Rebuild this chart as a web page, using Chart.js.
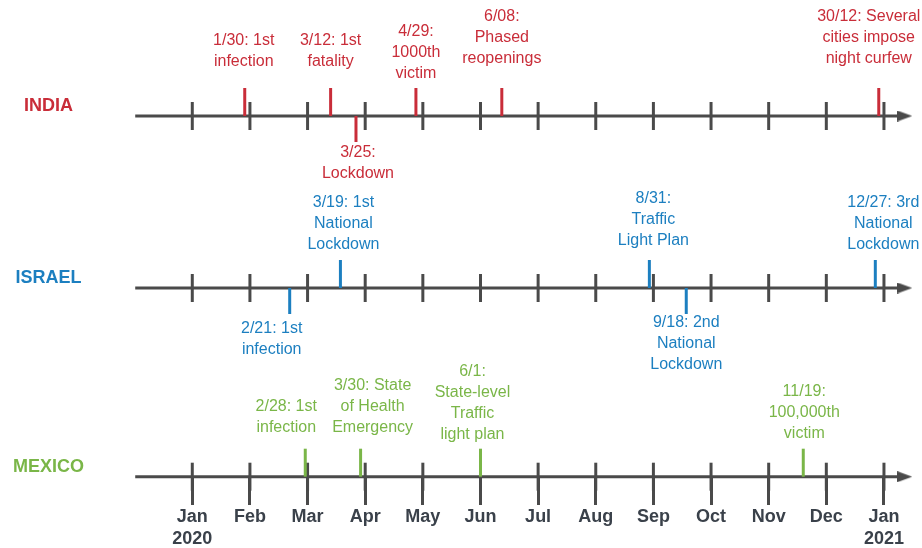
<!DOCTYPE html>
<html>
<head>
<meta charset="utf-8">
<title>COVID-19 timeline</title>
<script src="https://cdn.jsdelivr.net/npm/chart.js@4/dist/chart.umd.min.js"></script>
<style>
    html, body { margin: 0; padding: 0; background: #ffffff; }
    #wrap { width: 922px; height: 548px; }
</style>
</head>
<body>
<div id="wrap"><canvas id="timeline" width="922" height="548"></canvas></div>
<script>
// Month ticks (0 = Jan 2020, 12 = Jan 2021)
const monthValues = [0, 1, 2, 3, 4, 5, 6, 7, 8, 9, 10, 11, 12];
const monthLabels = [['Jan', '2020'], 'Feb', 'Mar', 'Apr', 'May', 'Jun', 'Jul', 'Aug', 'Sep', 'Oct', 'Nov', 'Dec', ['Jan', '2021']];

const countries = ['INDIA', 'ISRAEL', 'MEXICO'];

// Event positions in months
const indiaDates = [0.91, 2.40, 2.84, 3.88, 5.37, 11.91];
const indiaSides = ['above', 'above', 'below', 'above', 'above', 'above'];
const indiaEvents = ['1/30: 1st\ninfection', '3/12: 1st\nfatality', '3/25:\nLockdown', '4/29:\n1000th\nvictim',
    '6/08:\nPhased\nreopenings', '30/12: Several\ncities impose\nnight curfew'];

const israelDates = [1.69, 2.57, 7.93, 8.57, 11.85];
const israelSides = ['below', 'above', 'above', 'below', 'above'];
const israelEvents = ['2/21: 1st\ninfection', '3/19: 1st\nNational\nLockdown', '8/31:\nTraffic\nLight Plan',
    '9/18: 2nd\nNational\nLockdown', '12/27: 3rd\nNational\nLockdown'];

const mexicoDates = [1.96, 2.92, 5.00, 10.60];
const mexicoSides = ['above', 'above', 'above', 'above'];
const mexicoEvents = ['2/28: 1st\ninfection', '3/30: State\nof Health\nEmergency', '6/1:\nState-level\nTraffic\nlight plan',
    '11/19:\n100,000th\nvictim'];

// Layout / style
const rowY = [116, 288, 476.7];
const rowColors = ['#c92d39', '#1c7fc0', '#7ab648'];
const axisColor = '#4a4a4a';
const textColor = '#3a414a';
const axisStart = -0.99;
const axisEnd = 12.23;
const arrowAt = 12.36;
const markAbove = 28;
const markBelow = 26;
// label nudges: [dx in px, gap from marker end in px]
const labelNudges = [
    [[-1, 26], [0, 26], [2, 11], [0, 14], [0, 29], [-10, 29]],
    [[-18, 15], [3, 15], [4, 19], [0, 9], [8, 15]],
    [[-19, 21], [12, 21], [-8, 14], [1, 15]]
];

const rows = [
    { dates: indiaDates, sides: indiaSides, events: indiaEvents },
    { dates: israelDates, sides: israelSides, events: israelEvents },
    { dates: mexicoDates, sides: mexicoSides, events: mexicoEvents }
];

// arrow head drawn once into a small canvas, used as point style
const arrowImg = document.createElement('canvas');
arrowImg.width = 15;
arrowImg.height = 11;
(function() {
    const c = arrowImg.getContext('2d');
    c.fillStyle = axisColor;
    c.beginPath();
    c.moveTo(0, 0);
    c.lineTo(15, 5.5);
    c.lineTo(0, 11);
    c.closePath();
    c.fill();
})();

const datasets = [];

// event markers first so they sit on top
rows.forEach((row, r) => {
    datasets.push({
        type: 'scatter',
        data: row.dates.map((d, i) => ({
            x: d,
            y: row.sides[i] === 'above' ? rowY[r] - markAbove / 2 : rowY[r] + markBelow / 2
        })),
        pointStyle: 'line',
        pointRotation: 90,
        pointRadius: row.sides.map(s => s === 'above' ? markAbove / 2 : markBelow / 2),
        pointBorderWidth: 3,
        pointBorderColor: rowColors[r],
        pointBackgroundColor: rowColors[r],
        clip: false
    });
});

// month ticks on each row
rows.forEach((row, r) => {
    datasets.push({
        type: 'scatter',
        data: monthValues.map(m => ({ x: m, y: rowY[r] })),
        pointStyle: 'line',
        pointRotation: 90,
        pointRadius: 14,
        pointBorderWidth: 3,
        pointBorderColor: axisColor,
        clip: false
    });
});

// arrow heads
rows.forEach((row, r) => {
    datasets.push({
        type: 'scatter',
        data: [{ x: arrowAt, y: rowY[r] }],
        pointStyle: arrowImg,
        pointRadius: 8,
        clip: false
    });
});

// axis lines
rows.forEach((row, r) => {
    datasets.push({
        type: 'line',
        data: [{ x: axisStart, y: rowY[r] }, { x: axisEnd, y: rowY[r] }],
        borderColor: axisColor,
        borderWidth: 3,
        borderCapStyle: 'butt',
        pointRadius: 0,
        fill: false,
        clip: false
    });
});

const eventLabels = {
    id: 'eventLabels',
    afterDatasetsDraw(chart) {
        const ctx = chart.ctx;
        const xs = chart.scales.x;
        const ys = chart.scales.y;
        const lh = 21;
        ctx.save();
        ctx.textAlign = 'center';
        ctx.textBaseline = 'middle';

        rows.forEach((row, r) => {
            const base = ys.getPixelForValue(rowY[r]);

            // country name
            ctx.font = 'bold 18px "Liberation Sans", Arial, sans-serif';
            ctx.fillStyle = rowColors[r];
            ctx.fillText(countries[r], chart.chartArea.left + 48.5, base - 9.5);

            // event texts
            ctx.font = '16px "Liberation Sans", Arial, sans-serif';
            row.events.forEach((txt, i) => {
                const lines = txt.split('\n');
                const [dx, gap] = labelNudges[r][i];
                const x = xs.getPixelForValue(row.dates[i]) + dx;
                if (row.sides[i] === 'above') {
                    const last = base - markAbove - gap;
                    lines.forEach((ln, k) => {
                        ctx.fillText(ln, x, last - (lines.length - 1 - k) * lh);
                    });
                } else {
                    const first = base + markBelow + gap;
                    lines.forEach((ln, k) => {
                        ctx.fillText(ln, x, first + k * lh);
                    });
                }
            });
        });
        ctx.restore();
    }
};

new Chart(document.getElementById('timeline').getContext('2d'), {
    type: 'scatter',
    data: { datasets: datasets },
    options: {
        responsive: false,
        animation: false,
        events: [],
        layout: { padding: 0, autoPadding: false },
        plugins: {
            legend: { display: false },
            tooltip: { enabled: false }
        },
        scales: {
            x: {
                type: 'linear',
                min: -3.336,
                max: 12.66,
                position: { y: rowY[2] },
                afterBuildTicks: (scale) => {
                    scale.ticks = monthValues.map(v => ({ value: v }));
                },
                border: { display: false },
                grid: {
                    display: true,
                    drawOnChartArea: false,
                    drawTicks: true,
                    tickLength: 28,
                    tickWidth: 3,
                    tickColor: axisColor
                },
                ticks: {
                    autoSkip: false,
                    maxRotation: 0,
                    padding: 2,
                    color: textColor,
                    font: { family: '"Liberation Sans", Arial, sans-serif', size: 18, weight: 'bold', lineHeight: 1.2 },
                    callback: (value, index) => monthLabels[index]
                }
            },
            y: {
                type: 'linear',
                display: false,
                reverse: true,
                min: 0,
                max: 548
            }
        }
    },
    plugins: [eventLabels]
});
</script>
</body>
</html>
